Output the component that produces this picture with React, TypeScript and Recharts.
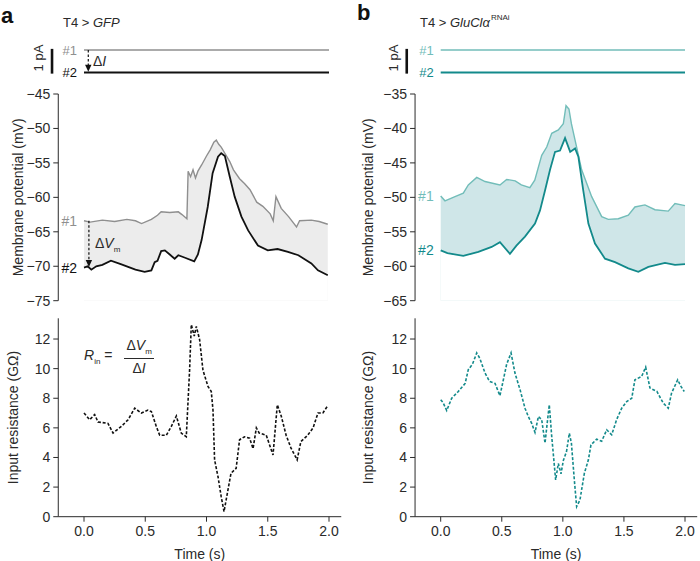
import React from "react";
import {
  ComposedChart,
  Line,
  Area,
  XAxis,
  YAxis,
  ReferenceLine,
  ReferenceDot,
} from "recharts";

// ---- data: [time (s), value] ----
const currentA1 = [[0, 1], [2, 1]];
const currentA2 = [[0, 0], [2, 0]];
const currentB1 = [[0, 1], [2, 1]];
const currentB2 = [[0, 0], [2, 0]];

// T4 > GFP, membrane potential (mV)
const vmA1 = [
  [0, -63.4], [0.05, -63.6], [0.15, -63.3], [0.25, -63.5], [0.35, -63.2], [0.42, -63.4],
  [0.47, -63.8], [0.55, -63.2], [0.6, -62.6], [0.63, -62.1], [0.7, -62.2], [0.77, -62.1],
  [0.8, -62.5], [0.84, -63.1], [0.85, -56.2], [0.87, -57.0], [0.89, -56.0], [0.91, -57.2],
  [0.93, -56.2], [0.96, -55.3], [1.0, -54.0], [1.03, -53.1], [1.06, -52.0], [1.08, -51.7],
  [1.1, -52.3], [1.12, -52.7], [1.15, -53.6], [1.19, -54.8], [1.22, -56.0], [1.27, -57.3],
  [1.31, -58.0], [1.355, -58.9], [1.41, -60.7], [1.46, -61.3], [1.52, -62.4], [1.545, -63.4],
  [1.567, -59.9], [1.61, -61.6], [1.67, -62.8], [1.735, -64.3], [1.76, -63.4], [1.856, -63.3],
  [1.92, -63.5], [1.99, -63.9],
];
const vmA2 = [
  [0, -70.2], [0.03, -70.0], [0.06, -70.5], [0.1, -70.0], [0.15, -69.8], [0.22, -69.2],
  [0.3, -69.7], [0.36, -70.1], [0.42, -70.5], [0.495, -70.8], [0.55, -70.6], [0.577, -69.4],
  [0.6, -69.2], [0.63, -67.8], [0.66, -67.7], [0.7, -68.3], [0.74, -68.9], [0.77, -68.4],
  [0.83, -68.8], [0.9, -69.3], [0.93, -68.3], [0.96, -66.2], [1.01, -61.4], [1.05, -56.5],
  [1.094, -54.1], [1.12, -53.6], [1.15, -54.0], [1.19, -57.0], [1.23, -59.9], [1.285, -62.8],
  [1.34, -64.8], [1.42, -67.0], [1.5, -67.7], [1.58, -67.5], [1.665, -67.9], [1.75, -68.4],
  [1.856, -69.6], [1.91, -70.6], [1.99, -71.3],
];

// T4 > GluCla RNAi, membrane potential (mV)
const vmB1 = [
  [0, -49.8], [0.035, -50.5], [0.117, -49.9], [0.185, -49.4], [0.226, -48.2], [0.295, -47.1],
  [0.363, -47.7], [0.485, -48.2], [0.54, -47.4], [0.61, -47.6], [0.66, -48.2], [0.73, -48.6],
  [0.77, -47.5], [0.827, -43.9], [0.868, -42.7], [0.909, -40.7], [0.963, -40.2], [1.004, -39.3],
  [1.026, -36.7], [1.05, -37.2], [1.07, -39.3], [1.1, -41.7], [1.154, -46.0], [1.236, -49.9],
  [1.318, -52.8], [1.372, -53.2], [1.454, -53.1], [1.536, -52.6], [1.59, -51.4], [1.672, -51.1],
  [1.754, -51.8], [1.863, -52.0], [1.918, -50.9], [2.0, -51.2],
];
const vmB2 = [
  [0, -57.7], [0.055, -58.1], [0.185, -58.5], [0.308, -57.9], [0.417, -57.2], [0.485, -56.5],
  [0.567, -58.2], [0.62, -57.0], [0.69, -55.7], [0.772, -53.8], [0.813, -51.9], [0.854, -49.0],
  [0.895, -46.0], [0.936, -43.4], [0.977, -43.2], [1.018, -41.4], [1.06, -43.4], [1.1, -42.9],
  [1.127, -44.1], [1.167, -49.0], [1.209, -53.8], [1.263, -56.7], [1.345, -58.9], [1.427, -59.4],
  [1.536, -60.3], [1.618, -60.8], [1.7, -60.1], [1.836, -59.5], [1.918, -59.8], [2.0, -59.7],
];

// input resistance (GOhm)
const rinA = [
  [0, 7.0], [0.046, 6.55], [0.087, 6.9], [0.114, 6.4], [0.196, 6.3], [0.237, 5.65],
  [0.305, 6.1], [0.36, 6.55], [0.414, 7.33], [0.468, 7.0], [0.522, 7.2], [0.55, 7.1],
  [0.59, 6.1], [0.618, 5.5], [0.672, 5.5], [0.713, 6.1], [0.754, 6.8], [0.794, 5.65],
  [0.835, 5.4], [0.862, 9.9], [0.876, 12.97], [0.9, 12.2], [0.917, 12.85], [0.944, 11.95],
  [0.971, 9.9], [1.012, 8.8], [1.039, 8.46], [1.053, 7.2], [1.066, 3.84], [1.094, 2.7],
  [1.12, 1.35], [1.143, 0.34], [1.17, 1.58], [1.2, 2.93], [1.242, 3.27], [1.27, 5.2],
  [1.31, 5.4], [1.352, 5.3], [1.38, 4.6], [1.407, 6.0], [1.43, 5.65], [1.488, 5.5],
  [1.543, 4.17], [1.578, 7.56], [1.61, 6.8], [1.65, 5.5], [1.69, 4.63], [1.74, 3.84],
  [1.77, 5.07], [1.826, 5.5], [1.87, 6.0], [1.91, 7.0], [1.95, 7.0], [1.99, 7.5],
];
const rinB = [
  [0, 7.9], [0.02, 7.7], [0.049, 7.17], [0.09, 8.0], [0.144, 8.46], [0.2, 9.0],
  [0.226, 9.93], [0.26, 10.3], [0.295, 11.06], [0.32, 10.7], [0.363, 9.7], [0.4, 9.13],
  [0.445, 9.0], [0.485, 8.17], [0.513, 9.25], [0.54, 10.3], [0.576, 11.06], [0.608, 9.7],
  [0.65, 8.57], [0.69, 7.33], [0.717, 6.77], [0.745, 6.3], [0.772, 5.69], [0.8, 6.77],
  [0.827, 6.55], [0.854, 4.97], [0.875, 6.55], [0.889, 7.56], [0.909, 5.41], [0.941, 2.48],
  [0.963, 3.6], [0.985, 2.9], [1.004, 3.8], [1.03, 4.4], [1.053, 5.64], [1.07, 4.97],
  [1.094, 2.48], [1.113, 0.68], [1.14, 1.13], [1.176, 2.93], [1.209, 3.84], [1.23, 4.85],
  [1.277, 5.24], [1.318, 5.1], [1.359, 5.87], [1.4, 5.53], [1.44, 6.55], [1.482, 7.33],
  [1.523, 7.78], [1.564, 8.0], [1.59, 9.25], [1.645, 9.47], [1.678, 10.1], [1.713, 8.69],
  [1.77, 8.46], [1.822, 7.67], [1.863, 7.33], [1.89, 8.35], [1.94, 9.25], [1.967, 8.8],
  [1.994, 8.46],
];

const timeTicks = [0, 0.5, 1, 1.5, 2];
const vmTicksA = [-75, -70, -65, -60, -55, -50, -45];
const vmTicksB = [-65, -60, -55, -50, -45, -40, -35];
const rinTicks = [0, 2, 4, 6, 8, 10, 12];

const FONT = '"Liberation Sans", Arial, Helvetica, sans-serif';
const INK = "#2a2a2a";
const GRAY = "#8f8f8f";
const TEAL_LIGHT = "#72bdb9";
const TEAL_DARK = "#138a8b";

const toPts = (rows: number[][]) => rows.map(([t, v]) => ({ t, v }));
const minus = (v: number) => String(v).replace("-", "\u2212");

const tickStyle = { fontSize: 14, fill: INK, fontFamily: FONT };

type Col = {
  left: number; // column left in page
  t0: number; // x of t = 0 inside column
  k: number; // px per second
  width: number;
};

const colA: Col = { left: 0, t0: 84, k: 122.5, width: 350 };
const colB: Col = { left: 350, t0: 90.7, k: 122.15, width: 350 };

const DOM: [number, number] = [-0.21, 2.1];
const TOP_DOM: [number, number] = [-0.44, 2.1];

const plotX = (c: Col, dom: [number, number]) => ({
  left: c.t0 + dom[0] * c.k,
  right: c.width - (c.t0 + dom[1] * c.k),
});

// small downward arrow head, tip at (cx, cy)
const Arrow = (props: any) => {
  const { cx, cy } = props;
  if (cx == null || cy == null) return null;
  return <path d={`M${cx - 3.2},${cy - 7} L${cx + 3.2},${cy - 7} L${cx},${cy} Z`} fill="#111" stroke="none" />;
};

function CurrentPanel({ c, d1, d2, c1, c2, barT, arrow }: any) {
  const p = plotX(c, TOP_DOM);
  return (
    <div style={{ position: "absolute", left: c.left, top: 30 }}>
      <ComposedChart width={c.width} height={60} margin={{ top: 8.75, bottom: 6.25, left: p.left, right: p.right }}>
        <XAxis type="number" dataKey="t" domain={TOP_DOM} hide allowDataOverflow />
        <YAxis type="number" domain={[-0.5, 1.5]} hide allowDataOverflow />
        <ReferenceLine
          segment={[{ x: barT, y: -0.05 }, { x: barT, y: 1.05 }]}
          stroke="#111"
          strokeWidth={2.6}
        />
        <Line data={toPts(d1)} dataKey="v" stroke={c1} strokeWidth={1.3} dot={false} isAnimationActive={false} />
        <Line data={toPts(d2)} dataKey="v" stroke={c2} strokeWidth={1.9} dot={false} isAnimationActive={false} />
        <ReferenceDot x={0} y={1} r={0} stroke="none" fill="none"
          label={{ value: "#1", position: "left", offset: 7, fill: c1, fontSize: 13, fontFamily: FONT }} />
        <ReferenceDot x={0} y={0} r={0} stroke="none" fill="none"
          label={{ value: "#2", position: "left", offset: 7, fill: c2, fontSize: 13, fontFamily: FONT }} />
        {arrow ? (
          <ReferenceLine segment={[{ x: 0.035, y: 1 }, { x: 0.035, y: 0.2 }]} stroke="#111" strokeWidth={1.2} strokeDasharray="2.5 2" />
        ) : null}
        {arrow ? <ReferenceDot x={0.035} y={0.03} r={3} shape={Arrow} /> : null}
      </ComposedChart>
    </div>
  );
}

function VmPanel({ c, d1, d2, c1, c2, fill, dom, ticks, arrow }: any) {
  const p = plotX(c, DOM);
  return (
    <div style={{ position: "absolute", left: c.left, top: 80 }}>
      <ComposedChart width={c.width} height={230} margin={{ top: 14, bottom: 9.3, left: 0, right: p.right }}>
        <XAxis type="number" dataKey="t" domain={DOM} hide allowDataOverflow />
        <YAxis
          type="number"
          domain={dom}
          ticks={ticks}
          width={p.left}
          tickFormatter={minus}
          tick={tickStyle}
          tickSize={5}
          tickMargin={3}
          axisLine={{ stroke: INK }}
          tickLine={{ stroke: INK }}
          allowDataOverflow
          label={{
            value: "Membrane potential (mV)",
            angle: -90,
            position: "insideLeft",
            offset: 18,
            style: { textAnchor: "middle", fontSize: 14, fill: INK, fontFamily: FONT },
          }}
        />
        <Area data={toPts(d1)} dataKey="v" baseValue="dataMin" stroke="none" fill={fill} fillOpacity={1} isAnimationActive={false} />
        <Area data={toPts(d2)} dataKey="v" baseValue="dataMin" stroke="none" fill="#ffffff" fillOpacity={1} isAnimationActive={false} />
        <Line data={toPts(d1)} dataKey="v" stroke={c1} strokeWidth={1.4} dot={false} isAnimationActive={false} />
        <Line data={toPts(d2)} dataKey="v" stroke={c2} strokeWidth={1.8} dot={false} isAnimationActive={false} />
        <ReferenceDot x={0} y={d1[0][1]} r={0} stroke="none" fill="none"
          label={{ value: "#1", position: "left", offset: 7, fill: c1, fontSize: 14, fontFamily: FONT }} />
        <ReferenceDot x={0} y={d2[0][1]} r={0} stroke="none" fill="none"
          label={{ value: "#2", position: "left", offset: 7, fill: c2, fontSize: 14, fontFamily: FONT }} />
        {arrow ? (
          <ReferenceLine segment={[{ x: 0.04, y: d1[0][1] }, { x: 0.04, y: d2[0][1] + 0.9 }]} stroke="#111" strokeWidth={1.2} strokeDasharray="2.5 2" />
        ) : null}
        {arrow ? <ReferenceDot x={0.04} y={d2[0][1] + 0.1} r={3} shape={Arrow} /> : null}
      </ComposedChart>
    </div>
  );
}

function RinPanel({ c, d, color }: any) {
  const p = plotX(c, DOM);
  return (
    <div style={{ position: "absolute", left: c.left, top: 300 }}>
      <ComposedChart width={c.width} height={261} margin={{ top: 18.3, bottom: 0, left: 0, right: p.right }}>
        <XAxis
          type="number"
          dataKey="t"
          domain={DOM}
          ticks={timeTicks}
          allowDataOverflow
          height={44.3}
          tickFormatter={(v: number) => v.toFixed(1)}
          tick={tickStyle}
          tickSize={5}
          tickMargin={4}
          axisLine={{ stroke: INK }}
          tickLine={{ stroke: INK }}
          label={{
            value: "Time (s)",
            position: "insideBottom",
            offset: 2,
            style: { fontSize: 14, fill: INK, fontFamily: FONT },
          }}
        />
        <YAxis
          type="number"
          domain={[0, 13.4]}
          ticks={rinTicks}
          width={p.left}
          tick={tickStyle}
          tickSize={5}
          tickMargin={3}
          axisLine={{ stroke: INK }}
          tickLine={{ stroke: INK }}
          allowDataOverflow
          label={{
            value: "Input resistance (G\u03A9)",
            angle: -90,
            position: "insideLeft",
            offset: c.left ? 18 : 13,
            style: { textAnchor: "middle", fontSize: 14, fill: INK, fontFamily: FONT },
          }}
        />
        <Line
          data={toPts(d)}
          dataKey="v"
          stroke={color}
          strokeWidth={1.6}
          strokeDasharray="3 1.8"
          dot={false}
          isAnimationActive={false}
        />
      </ComposedChart>
    </div>
  );
}

const abs = (left: number, top: number, extra: React.CSSProperties = {}): React.CSSProperties => ({
  position: "absolute",
  left,
  top,
  fontFamily: FONT,
  color: INK,
  whiteSpace: "nowrap",
  lineHeight: 1,
  ...extra,
});

export default function App() {
  return (
    <div style={{ position: "absolute", left: 0, top: 0, width: 700, height: 561, background: "#fff", overflow: "hidden" }}>
      <div style={abs(1, 5, { fontSize: 22, fontWeight: "bold", color: "#111" })}>a</div>
      <div style={abs(357, 2, { fontSize: 22, fontWeight: "bold", color: "#111" })}>b</div>
      <div style={abs(63, 16, { fontSize: 13 })}>
        T4 &gt; <i>GFP</i>
      </div>
      <div style={abs(420, 16, { fontSize: 13 })}>
        T4 &gt; <i>GluCl&alpha;</i>
        <sup style={{ fontSize: 8, verticalAlign: "top", position: "relative", top: -2, marginLeft: 1 }}>RNAi</sup>
      </div>

      <CurrentPanel c={colA} d1={currentA1} d2={currentA2} c1={GRAY} c2="#111" barT={-0.261} arrow />
      <CurrentPanel c={colB} d1={currentB1} d2={currentB2} c1={TEAL_LIGHT} c2={TEAL_DARK} barT={-0.278} arrow={false} />
      <div style={abs(93, 54, { fontSize: 14 })}>
        &Delta;<i>I</i>
      </div>
      <div style={abs(38, 58, { fontSize: 13, transform: "translate(-50%,-50%) rotate(-90deg)" })}>1 pA</div>
      <div style={abs(393, 58, { fontSize: 13, transform: "translate(-50%,-50%) rotate(-90deg)" })}>1 pA</div>

      <VmPanel c={colA} d1={vmA1} d2={vmA2} c1={GRAY} c2="#111" fill="#ececec" dom={[-75, -45]} ticks={vmTicksA} arrow />
      <VmPanel c={colB} d1={vmB1} d2={vmB2} c1={TEAL_LIGHT} c2={TEAL_DARK} fill="#cfe6e8" dom={[-65, -35]} ticks={vmTicksB} arrow={false} />
      <div style={abs(95, 236, { fontSize: 14 })}>
        &Delta;<i>V</i>
        <sub style={{ fontSize: 8 }}>m</sub>
      </div>

      <RinPanel c={colA} d={rinA} color="#111" />
      <RinPanel c={colB} d={rinB} color={TEAL_DARK} />
      <div style={abs(84, 338, { fontSize: 14, display: "flex", alignItems: "center" })}>
        <span>
          <i>R</i>
          <sub style={{ fontSize: 8 }}>in</sub> =
        </span>
        <span style={{ display: "inline-flex", flexDirection: "column", alignItems: "center", marginLeft: 12 }}>
          <span style={{ borderBottom: `1px solid ${INK}`, padding: "0 2px 2px" }}>
            &Delta;<i>V</i>
            <sub style={{ fontSize: 8 }}>m</sub>
          </span>
          <span style={{ paddingTop: 2 }}>
            &Delta;<i>I</i>
          </span>
        </span>
      </div>
    </div>
  );
}
